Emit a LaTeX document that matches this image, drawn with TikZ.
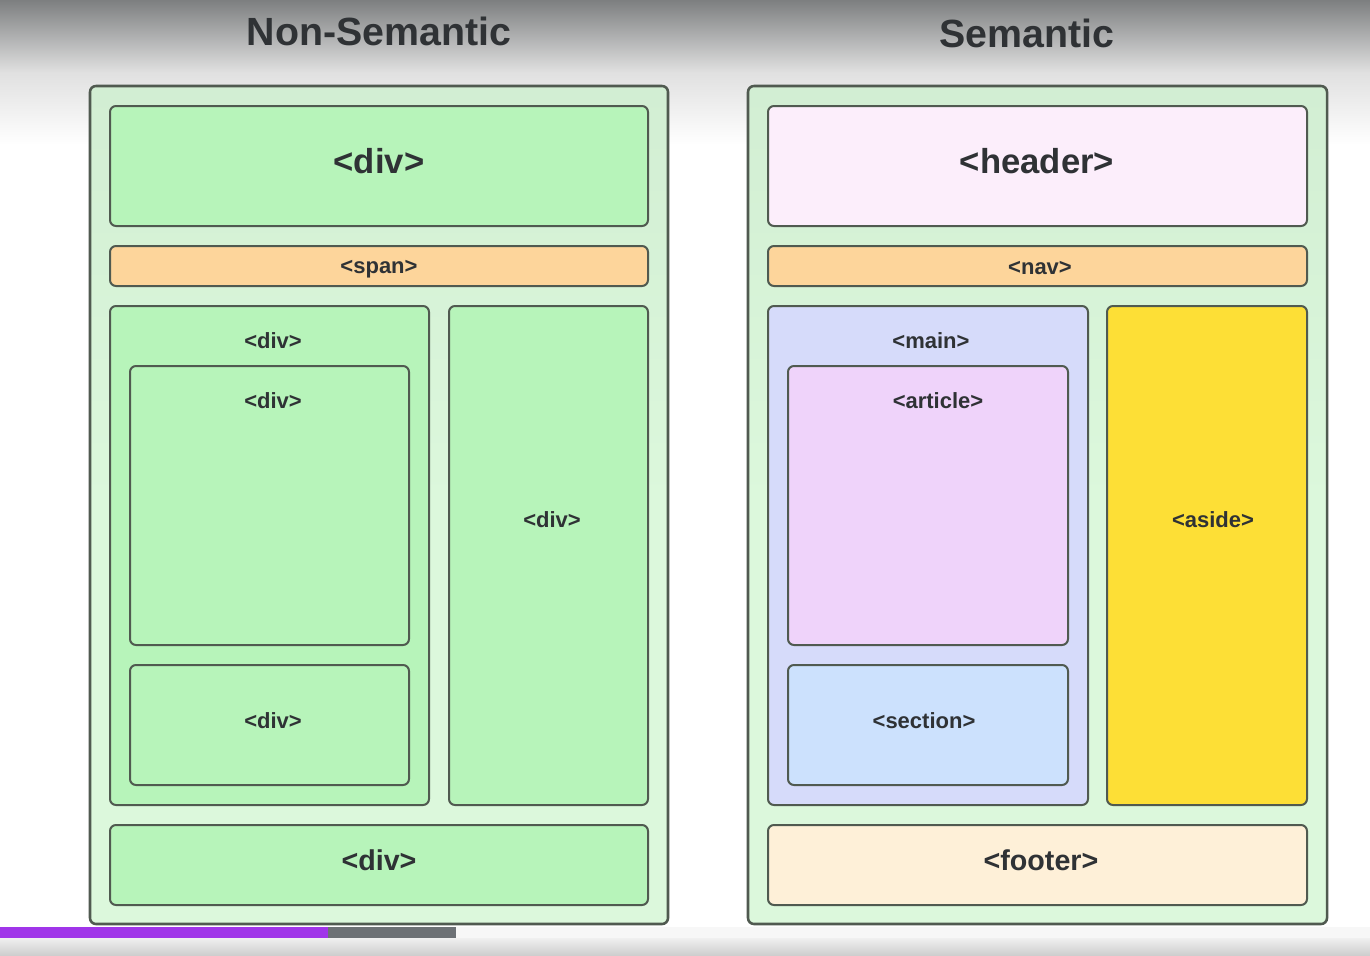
\documentclass[tikz,border=0pt]{standalone}
\usepackage{fontspec}
\setmainfont{Liberation Sans}
\usetikzlibrary{positioning}

\definecolor{topgray}{HTML}{7D7F80}
\definecolor{edgegray}{HTML}{505A50}
\definecolor{txtgray}{HTML}{2F3235}
\definecolor{paleframe}{HTML}{DCF8DC}
\definecolor{paleframetop}{HTML}{D2EED3}
\definecolor{divgreen}{HTML}{B7F4BA}
\definecolor{spanorange}{HTML}{FDD59B}
\definecolor{headerpink}{HTML}{FCEEFB}
\definecolor{mainblue}{HTML}{D6DBFA}
\definecolor{articlepink}{HTML}{EFD3FA}
\definecolor{sectionblue}{HTML}{CCE1FD}
\definecolor{asideyellow}{HTML}{FDDF36}
\definecolor{footercream}{HTML}{FEF0D8}
\definecolor{barpurple}{HTML}{A035E9}
\definecolor{bargray}{HTML}{6D7175}

\begin{document}
\begin{tikzpicture}[
  x=0.75pt, y=-0.75pt,
  text=txtgray,
  frame/.style={draw=edgegray, line width=1.9pt, rounded corners=4.5pt, inner sep=0pt, outer sep=0pt,
    top color=paleframetop, bottom color=paleframe, middle color=paleframe},
  box/.style={draw=edgegray, line width=1.5pt, rounded corners=4.5pt, inner sep=0pt, outer sep=0pt},
  sz/.style 2 args={minimum width=#1*0.75pt, minimum height=#2*0.75pt},
  title/.style={font=\bfseries\fontsize{29.5}{34}\selectfont},
  big/.style={font=\bfseries\fontsize{26}{30}\selectfont},
  mid/.style={font=\bfseries\fontsize{21.5}{25}\selectfont},
  small/.style={font=\bfseries\fontsize{16.5}{19}\selectfont}
]
\useasboundingbox (0,0) rectangle (1370,956);
% backdrop
\fill[white] (0,0) rectangle (1370,956);
\shade[top color=topgray, bottom color=white, middle color=black!12] (0,0) rectangle (1370,145);
\shade[top color=black!6, bottom color=black!20] (0,938) rectangle (1370,956);
\fill[black!3] (456,927) rectangle (1370,938);
\fill[barpurple] (0,927) rectangle (328,938);
\fill[bargray] (328,927) rectangle (456,938);

% Non-Semantic
\node[title] (nstitle) at (379,31) {Non-Semantic};
\node[frame, sz={578}{838}] (nsframe) at (379,505) {};
\node[box, fill=divgreen, sz={538}{120}] (nstop) at (379,166) {};
\node[big] at (379,161) {<div>};
\node[box, fill=spanorange, sz={538}{40}] (nsspan) at (379,266) {};
\node[small] at (379,269) {<span>};
\node[box, fill=divgreen, sz={319}{499}] (nswrap) at (269.5,555.5) {};
\node[small] at (273,341) {<div>};
\node[box, fill=divgreen, sz={279}{279}] (nsinner) at (269.5,505.5) {};
\node[small] at (273,401) {<div>};
\node[box, fill=divgreen, sz={279}{120}] (nslower) at (269.5,725) {};
\node[small] at (273,721) {<div>};
\node[box, fill=divgreen, sz={199}{499}] (nsside) at (548.5,555.5) {};
\node[small] at (552,520) {<div>};
\node[box, fill=divgreen, sz={538}{80}] (nsfoot) at (379,865) {};
\node[mid] at (379,860) {<div>};

% Semantic
\node[title] (stitle) at (1027,33) {Semantic};
\node[frame, sz={579}{838}] (sframe) at (1037.5,505) {};
\node[box, fill=headerpink, sz={539}{120}] (header) at (1037.5,166) {};
\node[big] at (1037,161) {<header>};
\node[box, fill=spanorange, sz={539}{40}] (nav) at (1037.5,266) {};
\node[small] at (1040,268) {<nav>};
\node[box, fill=mainblue, sz={320}{499}] (main) at (928,555.5) {};
\node[small] at (931,341) {<main>};
\node[box, fill=articlepink, sz={280}{279}] (article) at (928,505.5) {};
\node[small] at (938,401) {<article>};
\node[box, fill=sectionblue, sz={280}{120}] (section) at (928,725) {};
\node[small] at (924,721) {<section>};
\node[box, fill=asideyellow, sz={200}{499}] (aside) at (1207,555.5) {};
\node[small] at (1213,520) {<aside>};
\node[box, fill=footercream, sz={539}{80}] (footer) at (1037.5,865) {};
\node[mid] at (1041,860) {<footer>};
\end{tikzpicture}
\end{document}
